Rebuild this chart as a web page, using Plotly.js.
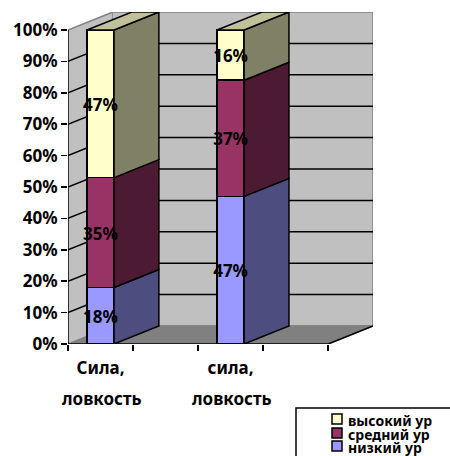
<!DOCTYPE html>
<html><head><meta charset="utf-8">
<script src="https://cdn.plot.ly/plotly-3.0.1.min.js"></script>
<style>html,body{margin:0;padding:0;background:#fff;overflow:hidden}#c{width:450px;height:456px}</style>
</head><body><div id="c"></div>
<script>
const categories = ['Сила,', '', 'сила,', ''];
const categories2 = ['ловкость', '', 'ловкость', ''];
const seriesNames = ['низкий ур', 'средний ур', 'высокий ур'];
const low = [18, null, 47, null];
const mid = [35, null, 37, null];
const high = [47, null, 16, null];
const faceColors = ['#9999FF', '#993366', '#FFFFCC'];
const sideColors = ['#4D4D80', '#4D1A33', '#808066'];
const topColor = '#C0C09A';
const percentTicks = [0,10,20,30,40,50,60,70,80,90,100];
const FONT = '"Noto Sans", sans-serif';
const depthX = 0.69, depthY = 5.73, barW = 0.415;
const series = [low, mid, high];
const nCat = categories.length;
const xRange = [-0.5, nCat - 0.5 + depthX], yRange = [0, 100 + depthY];
const xMin = -0.5, xMax = nCat - 0.5;

const poly = (xs, ys, fill, line, w, ax) => ({type:'scatter', mode:'lines', x:xs, y:ys, fill:'toself', fillcolor:fill,
  line:{color:line, width:w}, hoverinfo:'skip', showlegend:false, cliponaxis:false, xaxis:ax?'x2':'x', yaxis:ax?'y2':'y'});
const lines = (xs, ys, color, w) => ({type:'scatter', mode:'lines', x:xs, y:ys, line:{color:color, width:w},
  hoverinfo:'skip', showlegend:false, cliponaxis:false, connectgaps:false, xaxis:'x', yaxis:'y'});

const traces = [];
traces.push(poly([xMin,xMin+depthX,xMin+depthX,xMin],[0,depthY,100+depthY,100],'#C0C0C0','#808080',1.5));
traces.push(poly([xMin+depthX,xMax+depthX,xMax+depthX,xMin+depthX],[depthY,depthY,100+depthY,100+depthY],'#C0C0C0','#808080',1.5));
traces.push(poly([xMin,xMax,xMax+depthX,xMin+depthX],[0,0,depthY,depthY],'#808080','#808080',1.5));
const gx=[],gy=[];
percentTicks.slice(1,-1).forEach(t=>{gx.push(xMin,xMin+depthX,xMax+depthX,null);gy.push(t,t+depthY,t+depthY,null);});
traces.push(lines(gx,gy,'#000',1.5));
traces.push(lines([xMin,xMin,null,xMin,xMax,xMax+depthX],[100,0,null,0,0,depthY],'#000',1.5));

const valid = categories.map((c,i)=>i).filter(i=>series[0][i]!==null);
series.forEach((s,k)=>{
  traces.push({type:'bar', x:valid, y:valid.map(i=>s[i]), width:barW, name:seriesNames[k],
    marker:{color:faceColors[k], line:{color:'#000', width:1.5}}, hoverinfo:'skip', showlegend:false, xaxis:'x2', yaxis:'y2'});
});
const base = valid.map(()=>0);
series.forEach((s,k)=>{
  const xs=[],ys=[];
  valid.forEach((i,j)=>{
    const r=i+barW/2, b=base[j], t=b+s[i];
    xs.push(r,r,r+depthX,r+depthX,r,null); ys.push(b,t,t+depthY,b+depthY,b,null);
  });
  traces.push(poly(xs,ys,sideColors[k],'#000',1.5,true));
  valid.forEach((i,j)=>{base[j]+=s[i];});
});
const tx=[],ty=[];
valid.forEach((i,j)=>{const l=i-barW/2,r=i+barW/2,t=base[j];
  tx.push(l,r,r+depthX,l+depthX,l,null); ty.push(t,t,t+depthY,t+depthY,t,null);});
traces.push(poly(tx,ty,topColor,'#000',1.5,true));
const labelDrop = 0.9;
const cum = valid.map(()=>0), lx=[],ly=[],lt=[];
series.forEach(s=>{valid.forEach((i,j)=>{lx.push(i);ly.push(cum[j]+s[i]/2-labelDrop);lt.push(s[i]+'%');cum[j]+=s[i];});});
traces.push({type:'scatter',mode:'text',x:lx,y:ly,text:lt,textposition:'middle center',cliponaxis:false,
  textfont:{family:FONT,size:17,color:'#000',weight:700},hoverinfo:'skip',showlegend:false,xaxis:'x2',yaxis:'y2'});

const W=450,H=456;
const xDom=[68/W,373/W], yDom=[(H-344)/H,(H-12)/H];
const tickFont={family:FONT,size:17,color:'#000',weight:700};
const catFont={family:FONT,size:17,color:'#000',weight:700};
const shapes=[{type:'rect',xref:'paper',yref:'paper',x0:296/W,x1:460/W,y0:(H-470)/H,y1:(H-408)/H,
  line:{color:'#000',width:1.5},fillcolor:'#fff'}];
const annotations=[];
categories2.forEach((c,i)=>{ if(c) annotations.push({xref:'x2',yref:'paper',x:i,xshift:1,y:(H-398)/H,text:c,showarrow:false,
  xanchor:'center',yanchor:'middle',font:catFont}); });
const legendRows=[420,434,447];
[2,1,0].forEach((k,row)=>{
  const y=legendRows[row];
  shapes.push({type:'rect',xref:'paper',yref:'paper',x0:332/W,x1:342/W,y0:(H-y-4)/H,y1:(H-y+6)/H,
    line:{color:'#000',width:1.5},fillcolor:faceColors[k]});
  annotations.push({xref:'paper',yref:'paper',x:346/W,y:(H-y)/H,text:seriesNames[k],showarrow:false,
    xanchor:'left',yanchor:'middle',font:{family:FONT,size:14,color:'#000',weight:700}});
});

const layout={width:W,height:H,margin:{l:0,r:0,t:0,b:0},paper_bgcolor:'#fff',plot_bgcolor:'rgba(0,0,0,0)',
  showlegend:false,barmode:'stack',shapes,annotations,
  xaxis:{type:'linear',domain:xDom,range:xRange,showgrid:false,zeroline:false,showline:false,
    tickmode:'array',tickvals:categories.map((c,i)=>i-0.5).concat([xMax]),ticks:'outside',ticklen:6,tickwidth:1.5,tickcolor:'#000',showticklabels:false},
  yaxis:{type:'linear',domain:yDom,range:yRange,showgrid:false,zeroline:false,showline:false,
    tickmode:'array',tickvals:percentTicks,ticktext:percentTicks.map(t=>t+'%'),ticks:'outside',ticklen:6,tickwidth:1.5,tickcolor:'#000',tickfont:tickFont},
  xaxis2:{type:'linear',overlaying:'x',domain:xDom,range:xRange,anchor:'y2',showgrid:false,zeroline:false,showline:false,
    tickmode:'array',tickvals:categories.map((c,i)=>i).filter(i=>categories[i]),ticktext:categories.filter(c=>c),
    ticks:'',tickfont:catFont,ticklabelstandoff:12},
  yaxis2:{type:'linear',overlaying:'y',domain:yDom,range:yRange,anchor:'x2',showgrid:false,zeroline:false,showline:false,showticklabels:false,ticks:''}
};
Plotly.newPlot('c',traces,layout,{displayModeBar:false,staticPlot:true});
</script></body></html>
